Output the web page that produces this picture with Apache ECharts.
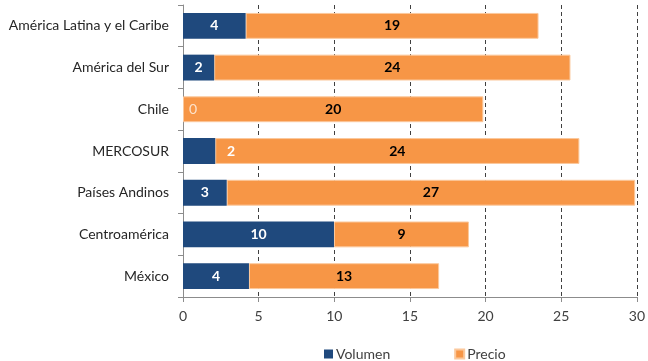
<!DOCTYPE html>
<html>
<head>
<meta charset="utf-8">
<script src="https://cdn.jsdelivr.net/npm/echarts@6/dist/echarts.min.js"></script>
<style>
  html, body { margin: 0; padding: 0; background: #ffffff; }
  #chart { width: 648px; height: 361px; }
</style>
</head>
<body>
<div id="chart"></div>
<script>
// Contribution to export growth by region: volume and price components
const categories = [
  'América Latina y el Caribe',
  'América del Sur',
  'Chile',
  'MERCOSUR',
  'Países Andinos',
  'Centroamérica',
  'México'
];
const volumen = [4.14, 2.06, 0, 2.13, 2.89, 9.98, 4.36];
const precio = [19.36, 23.55, 19.85, 24.07, 27.0, 8.92, 12.57];
const xTicks = [0, 5, 10, 15, 20, 25, 30];

const FONT = 'Lato, "Open Sans", sans-serif';

// Volume labels: a few entries get their own placement/styling
const volumenData = volumen.map(function (v, i) {
  const item = { value: v };
  if (categories[i] === 'MERCOSUR') {
    item.label = { offset: [32, 0] };
  }
  if (v === 0) {
    item.label = { offset: [10, 0], fontWeight: 'normal', color: '#fde3cc' };
  }
  return item;
});

const chart = echarts.init(document.getElementById('chart'), null, { renderer: 'canvas' });
chart.setOption({
  animation: false,
  backgroundColor: '#ffffff',
  textStyle: { fontFamily: FONT },
  grid: { left: 183, right: 9, top: 5, bottom: 64, containLabel: false },
  legend: {
    data: ['Volumen', 'Precio'],
    left: 319,
    top: 342,
    itemWidth: 9,
    itemHeight: 9,
    itemGap: 64,
    icon: 'rect',
    textStyle: { fontFamily: FONT, fontSize: 14, color: '#404040', padding: [0, 0, 0, -2] }
  },
  xAxis: {
    type: 'value',
    min: xTicks[0],
    max: xTicks[xTicks.length - 1],
    interval: 5,
    axisLine: { show: true, lineStyle: { color: '#8c8c8c', width: 1 } },
    axisTick: { show: true, length: 5, lineStyle: { color: '#8c8c8c' } },
    axisLabel: {
      margin: 12,
      fontFamily: FONT,
      fontSize: 14,
      color: '#404040',
      formatter: function (v) { return xTicks.indexOf(v) >= 0 ? String(v) : ''; }
    },
    splitLine: {
      show: true,
      lineStyle: { color: '#404040', type: [4, 3], width: 1 }
    }
  },
  yAxis: {
    type: 'category',
    data: categories,
    inverse: true,
    axisLine: { show: true, lineStyle: { color: '#8c8c8c', width: 1 } },
    axisTick: { show: true, length: 5, lineStyle: { color: '#8c8c8c' } },
    axisLabel: { margin: 14, fontFamily: FONT, fontSize: 14, color: '#262626' },
    splitLine: { show: false }
  },
  series: [
    {
      name: 'Volumen',
      type: 'bar',
      stack: 'total',
      barCategoryGap: '38%',
      data: volumenData,
      itemStyle: { color: '#1f497d' },
      label: {
        show: true,
        position: 'inside',
        fontFamily: FONT,
        fontSize: 14,
        fontWeight: 'bold',
        color: '#ffffff',
        formatter: function (p) { return Math.round(p.value); }
      },
      z: 3
    },
    {
      name: 'Precio',
      type: 'bar',
      stack: 'total',
      barCategoryGap: '38%',
      data: precio,
      itemStyle: { color: '#f79646', borderColor: '#fbc89c', borderWidth: 1 },
      label: {
        show: true,
        position: 'inside',
        fontFamily: FONT,
        fontSize: 14,
        fontWeight: 'bold',
        color: '#000000',
        formatter: function (p) { return Math.round(p.value); }
      },
      z: 2
    }
  ]
});
</script>
</body>
</html>
